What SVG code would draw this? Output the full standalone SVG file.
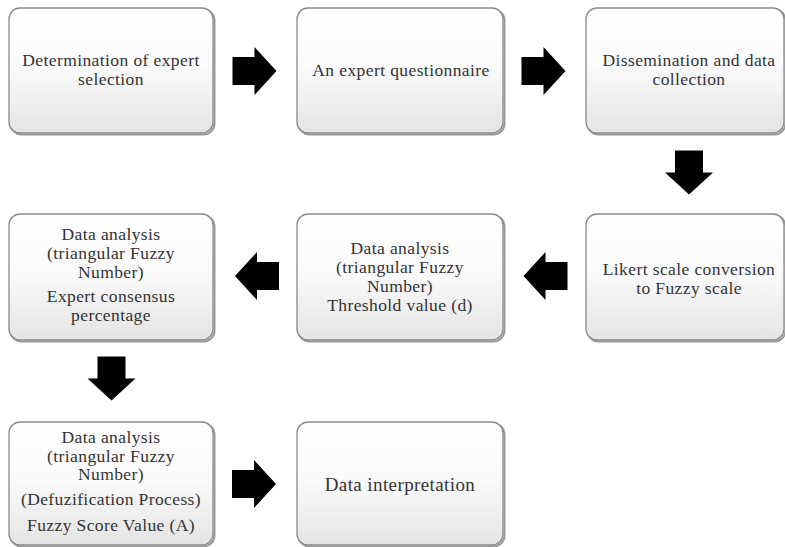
<svg xmlns="http://www.w3.org/2000/svg" xmlns:xlink="http://www.w3.org/1999/xlink" width="785" height="547" viewBox="0 0 785 547">
<style>
  .box { fill: url(#g); stroke: #8a8a8a; stroke-width: 1.3; }
  .shadow { fill: none; stroke: #9a9a9a; stroke-width: 2; }
  .t { font-family: "Liberation Serif", "Times New Roman", serif; font-size: 17.5px; letter-spacing: 0.4px; fill: #333; text-anchor: middle; }
  .arrow { fill: #000; }
</style>
<defs>
  <linearGradient id="g" x1="0" y1="0" x2="0" y2="1">
    <stop offset="0" stop-color="#ffffff"/>
    <stop offset="0.45" stop-color="#fbfbfb"/>
    <stop offset="1" stop-color="#e4e4e4"/>
  </linearGradient>
  <path id="arr" d="M-22,-14 H0 V-24 L22,0 L0,24 V14 H-22 Z"/>
</defs>
<rect width="785" height="547" fill="#fff"/>

<g id="n1">
  <rect class="shadow" x="10.5" y="9.5" width="204" height="125" rx="11"/>
  <rect class="box" x="9" y="8" width="204" height="125" rx="11"/>
  <text class="t" x="111" y="66">Determination of expert</text>
  <text class="t" x="111" y="85">selection</text>
</g>
<g id="n2">
  <rect class="shadow" x="298.5" y="9.5" width="206" height="125" rx="11"/>
  <rect class="box" x="297" y="8" width="206" height="125" rx="11"/>
  <text class="t" x="401" y="76">An expert questionnaire</text>
</g>
<g id="n3">
  <rect class="shadow" x="587.5" y="9.5" width="198" height="125" rx="11"/>
  <rect class="box" x="586" y="8" width="198" height="125" rx="11"/>
  <text class="t" x="689" y="66">Dissemination and data</text>
  <text class="t" x="689" y="85">collection</text>
</g>
<g id="n4">
  <rect class="shadow" x="10.5" y="215.5" width="204" height="126" rx="11"/>
  <rect class="box" x="9" y="214" width="204" height="126" rx="11"/>
  <text class="t" x="111" y="240">Data analysis</text>
  <text class="t" x="111" y="259">(triangular Fuzzy</text>
  <text class="t" x="111" y="278">Number)</text>
  <text class="t" x="111" y="302">Expert consensus</text>
  <text class="t" x="111" y="321">percentage</text>
</g>
<g id="n5">
  <rect class="shadow" x="298.5" y="215.5" width="206" height="126" rx="11"/>
  <rect class="box" x="297" y="214" width="206" height="126" rx="11"/>
  <text class="t" x="400" y="254">Data analysis</text>
  <text class="t" x="400" y="273">(triangular Fuzzy</text>
  <text class="t" x="400" y="292">Number)</text>
  <text class="t" x="400" y="311">Threshold value (d)</text>
</g>
<g id="n6">
  <rect class="shadow" x="587.5" y="215.5" width="198" height="126" rx="11"/>
  <rect class="box" x="586" y="214" width="198" height="126" rx="11"/>
  <text class="t" x="689" y="275">Likert scale conversion</text>
  <text class="t" x="689" y="294">to Fuzzy scale</text>
</g>
<g id="n7">
  <rect class="shadow" x="10.5" y="423.5" width="204" height="123" rx="11"/>
  <rect class="box" x="9" y="422" width="204" height="123" rx="11"/>
  <text class="t" x="111" y="443">Data analysis</text>
  <text class="t" x="111" y="461.5">(triangular Fuzzy</text>
  <text class="t" x="111" y="480">Number)</text>
  <text class="t" x="111" y="505">(Defuzification Process)</text>
  <text class="t" x="111" y="531">Fuzzy Score Value (A)</text>
</g>
<g id="n8">
  <rect class="shadow" x="298.5" y="423.5" width="206" height="123" rx="11"/>
  <rect class="box" x="297" y="422" width="206" height="123" rx="11"/>
  <text class="t" x="400" y="491" style="font-size:19px">Data interpretation</text>
</g>

<g id="connectors" class="arrow">
  <use xlink:href="#arr" href="#arr" transform="translate(254.5,71)"/>
  <use xlink:href="#arr" href="#arr" transform="translate(543.5,71)"/>
  <use xlink:href="#arr" href="#arr" transform="translate(689,172.5) rotate(90)"/>
  <use xlink:href="#arr" href="#arr" transform="translate(545.5,276) rotate(180)"/>
  <use xlink:href="#arr" href="#arr" transform="translate(257,276) rotate(180)"/>
  <use xlink:href="#arr" href="#arr" transform="translate(111.5,378.5) rotate(90)"/>
  <use xlink:href="#arr" href="#arr" transform="translate(254,484)"/>
</g>
</svg>
